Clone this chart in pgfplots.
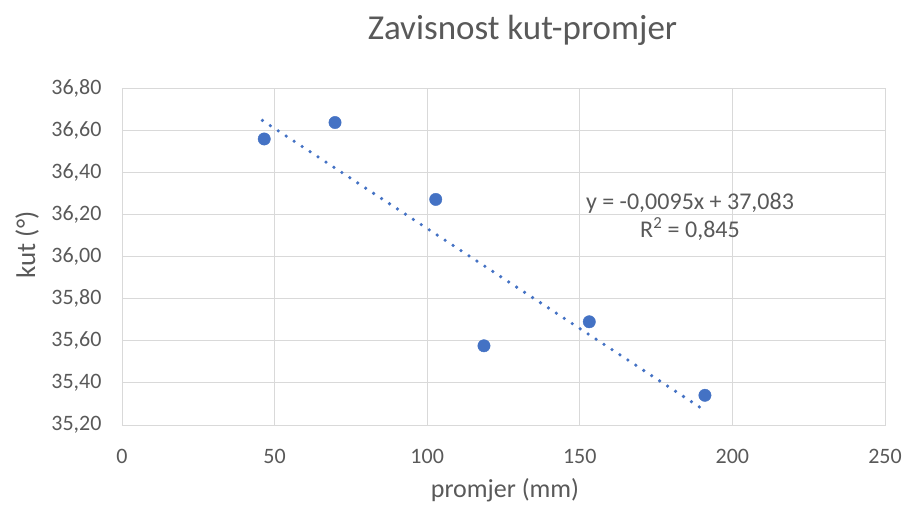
\documentclass[border=0pt]{standalone}
\usepackage{pgfplots}
\pgfplotsset{compat=1.18}
\usepackage{fontspec}
\setmainfont{Carlito}
\definecolor{ptblue}{HTML}{4472C4}
\definecolor{txtgray}{HTML}{595959}
\definecolor{gridgray}{HTML}{D9D9D9}
\begin{document}
\begin{tikzpicture}
\path[use as bounding box] (0,0) rectangle (907pt,506pt);
\begin{axis}[
  at={(122pt,81pt)}, anchor=south west,
  scale only axis, width=763pt, height=337pt,
  xmin=0, xmax=250, ymin=35.2, ymax=36.8,
  xtick={0,50,...,250}, ytick={35.2,35.4,...,36.8},
  grid=major, major grid style={gridgray, line width=0.9pt},
  axis line style={gridgray, line width=0.9pt},
  tick style={draw=none},
  /pgf/number format/assume math mode=true,
  ticklabel style={font=\fontsize{22}{24}\selectfont, text=txtgray},
  yticklabel style={/pgf/number format/use comma, /pgf/number format/fixed, /pgf/number format/fixed zerofill, /pgf/number format/precision=2, xshift=-17pt},
  xticklabel style={/pgf/number format/use comma, /pgf/number format/fixed, anchor=base, yshift=-38pt},
  xlabel={promjer (mm)}, ylabel={kut (°)},
  xlabel style={font=\fontsize{26}{28}\selectfont, text=txtgray, at={(axis description cs:0.502,-0.2145)}, anchor=base},
  ylabel style={font=\fontsize{27}{29}\selectfont, text=txtgray, at={(axis description cs:-0.114,0.534)}, anchor=base},
]
\addplot[only marks, mark=*, mark size=6.2pt, mark options={fill=ptblue, draw=ptblue}] coordinates {
  (46.6,36.558) (69.8,36.636) (102.8,36.271) (118.6,35.576) (153.1,35.690) (191.0,35.341)
};
\addplot[ptblue, line width=3.6pt, line cap=round, dash pattern=on 0pt off 9.5pt] coordinates {
  (46,36.646) (190,35.278)
};
\node[font=\fontsize{24}{26}\selectfont, text=txtgray, anchor=base] at (axis cs:186.1,36.221) {y = -0,0095x + 37,083};
\node[font=\fontsize{24}{26}\selectfont, text=txtgray, anchor=base] at (axis cs:186.1,36.088) {R\textsuperscript{2} = 0,845};
\end{axis}
\node[font=\fontsize{35}{38}\selectfont, text=txtgray, anchor=base] at (522.5pt,466pt) {Zavisnost kut-promjer};
\end{tikzpicture}
\end{document}
